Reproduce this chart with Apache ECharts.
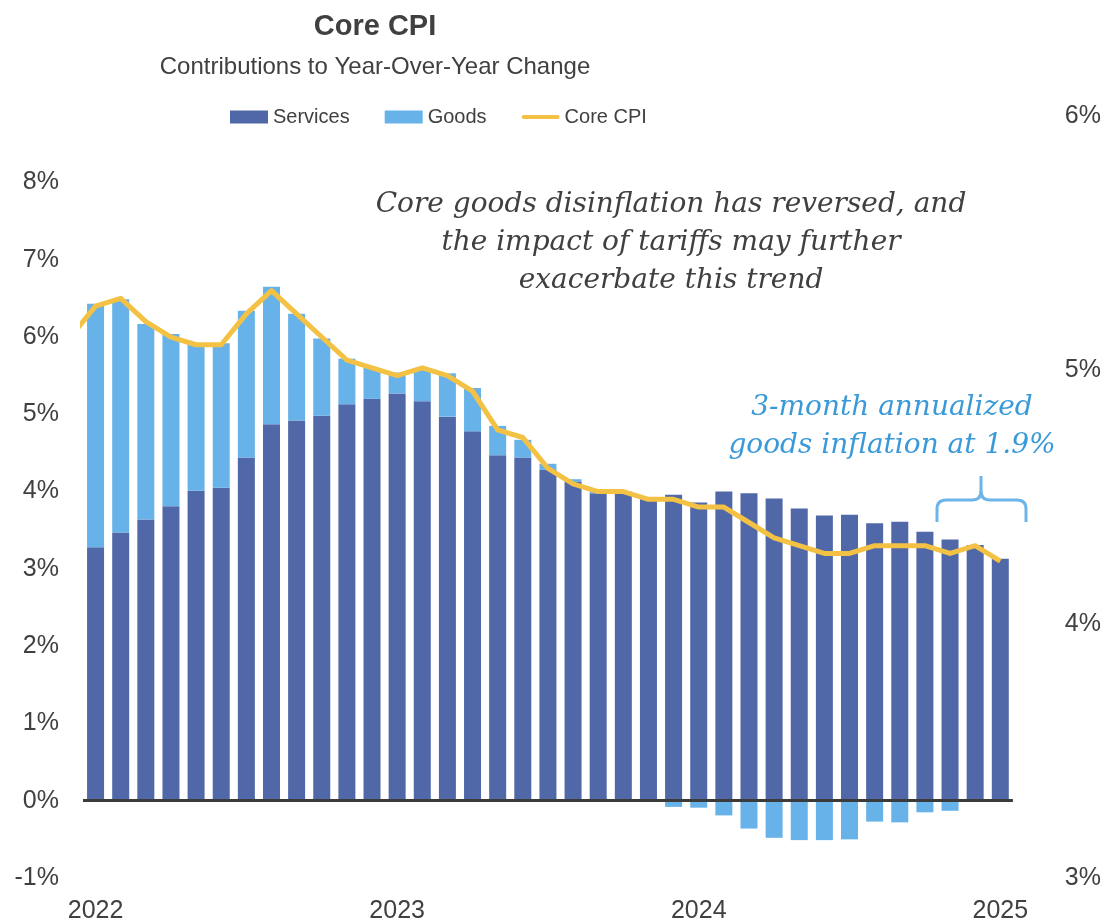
<!DOCTYPE html>
<html>
<head>
<meta charset="utf-8">
<title>Core CPI</title>
<script src="https://cdn.jsdelivr.net/npm/echarts@6/dist/echarts.min.js"></script>
<style>
  html, body { margin: 0; padding: 0; background: #fff; }
  #chart { width: 1104px; height: 924px; }
</style>
</head>
<body>
<div id="chart"></div>
<script>
// 月份：2022年2月 — 2025年2月
const months = [
  'Feb 2022', 'Mar 2022', 'Apr 2022', 'May 2022', 'Jun 2022', 'Jul 2022', 'Aug 2022', 'Sep 2022', 'Oct 2022', 'Nov 2022', 'Dec 2022', 'Jan 2023',
  'Feb 2023', 'Mar 2023', 'Apr 2023', 'May 2023', 'Jun 2023', 'Jul 2023', 'Aug 2023', 'Sep 2023', 'Oct 2023', 'Nov 2023', 'Dec 2023', 'Jan 2024',
  'Feb 2024', 'Mar 2024', 'Apr 2024', 'May 2024', 'Jun 2024', 'Jul 2024', 'Aug 2024', 'Sep 2024', 'Oct 2024', 'Nov 2024', 'Dec 2024', 'Jan 2025',
  'Feb 2025'
]
// 服务贡献 (%)
const services = [
  3.28, 3.47, 3.64, 3.81, 4.01, 4.05, 4.44, 4.87, 4.92, 4.98, 5.13, 5.20,
  5.27, 5.17, 4.97, 4.78, 4.47, 4.44, 4.28, 4.13, 3.98, 3.98, 3.91, 3.96,
  3.86, 4.00, 3.98, 3.91, 3.78, 3.69, 3.70, 3.59, 3.61, 3.48, 3.38, 3.31,
  3.13
]
// 商品贡献 (%)
const goods = [
  3.15, 3.02, 2.53, 2.23, 1.91, 1.87, 1.90, 1.78, 1.38, 1.00, 0.59, 0.40,
  0.27, 0.43, 0.56, 0.56, 0.38, 0.23, 0.08, 0.03, 0.02, 0.02, 0.00, -0.08,
  -0.09, -0.19, -0.36, -0.48, -0.51, -0.51, -0.50, -0.27, -0.28, -0.15, -0.13, 0.00,
  0.00
]
// 核心CPI同比 (%)，从2022年1月开始，第一段在图表左边被裁掉
const coreCpi = [
  6.0,
  6.4, 6.5, 6.2, 6.0, 5.9, 5.9, 6.3, 6.6, 6.3, 6.0, 5.7, 5.6,
  5.5, 5.6, 5.5, 5.3, 4.8, 4.7, 4.3, 4.1, 4.0, 4.0, 3.9, 3.9,
  3.8, 3.8, 3.6, 3.4, 3.3, 3.2, 3.2, 3.3, 3.3, 3.3, 3.2, 3.3,
  3.1
]
const leftTicks = { min: -1, max: 8.86, step: 1 }
const rightTicks = { min: 3, max: 6, step: 1 }

const textColor = '#404040'
const font = '"Liberation Sans", Arial, sans-serif'
const noteFont = '"DejaVu Serif", Georgia, serif'
const braceColor = '#6cb4e9'
const lineColor = '#f3c244'

const myChart = echarts.init(document.getElementById('chart'))
window.addEventListener('resize', function () {
  myChart.resize()
})

// 大括号：直线段 + 圆角
function braceLine(x1, y1, x2, y2) {
  return { type: 'line', shape: { x1, y1, x2, y2 }, style: { stroke: braceColor, lineWidth: 3 } }
}
function braceCorner(x1, y1, cpx1, cpy1, x2, y2) {
  return {
    type: 'bezierCurve',
    shape: { x1, y1, cpx1, cpy1, x2, y2 },
    style: { stroke: braceColor, lineWidth: 3, fill: 'none' },
  }
}
const brace = [
  braceLine(937, 522, 937, 509),
  braceCorner(937, 509, 937, 500, 946, 500),
  braceLine(946, 500, 972, 500),
  braceCorner(972, 500, 981, 500, 981, 491),
  braceLine(981, 491, 981, 476),
  braceCorner(981, 491, 981, 500, 990, 500),
  braceLine(990, 500, 1017, 500),
  braceCorner(1017, 500, 1026, 500, 1026, 509),
  braceLine(1026, 509, 1026, 522),
]

const option = {
  animation: false,
  textStyle: { fontFamily: font, color: textColor },
  title: [
    {
      text: 'Core CPI',
      left: 370,
      top: 7,
      textAlign: 'center',
      textStyle: { fontSize: 29, fontWeight: 'bold', color: textColor, fontFamily: font },
    },
    {
      text: 'Contributions to Year-Over-Year Change',
      left: 370,
      top: 50,
      textAlign: 'center',
      textStyle: { fontSize: 24, fontWeight: 'normal', color: textColor, fontFamily: font },
    },
  ],
  legend: {
    left: 225,
    top: 102,
    itemWidth: 38,
    itemHeight: 13,
    itemGap: 35,
    textStyle: { fontSize: 20, color: textColor, fontFamily: font },
    data: [
      { name: 'Services', icon: 'rect' },
      { name: 'Goods', icon: 'rect' },
      // 图例里的折线：细长圆角条
      { name: 'Core CPI', icon: 'path://M2,0 H36 A2,2 0 0 1 36,4 H2 A2,2 0 0 1 2,0 Z' },
    ],
  },
  grid: { left: 83, right: 91, top: 116, bottom: 45 },
  xAxis: [
    {
      type: 'category',
      data: months,
      axisLine: { show: false },
      axisTick: { show: false },
      axisLabel: {
        interval: function (i) { return i % 12 === 0 },
        formatter: function (v) { return v.slice(-4) },
        fontSize: 25,
        color: textColor,
        margin: 21,
      },
    },
    {
      // 折线用的隐藏数值轴，让2022年1月的点落在左边界外
      type: 'value',
      min: -0.5,
      max: months.length - 0.5,
      show: false,
    },
  ],
  yAxis: [
    {
      type: 'value',
      min: leftTicks.min,
      max: leftTicks.max,
      interval: leftTicks.step,
      splitLine: { show: false },
      axisLine: { show: false },
      axisTick: { show: false },
      axisLabel: {
        showMaxLabel: false,
        formatter: function (v) { return Number.isInteger(v) ? v + '%' : '' },
        fontSize: 25,
        color: textColor,
        margin: 24,
      },
    },
    {
      type: 'value',
      position: 'right',
      min: rightTicks.min,
      max: rightTicks.max,
      interval: rightTicks.step,
      splitLine: { show: false },
      axisLine: { show: false },
      axisTick: { show: false },
      axisLabel: {
        formatter: '{value}%',
        fontSize: 25,
        color: textColor,
        margin: 52,
      },
    },
  ],
  series: [
    {
      name: 'Services',
      type: 'bar',
      stack: 'total',
      barWidth: 17,
      data: services,
      itemStyle: { color: '#5068a7' },
      // 0% 基线
      markLine: {
        silent: true,
        symbol: 'none',
        label: { show: false },
        lineStyle: { color: '#3b3b3b', width: 3, type: 'solid' },
        data: [{ yAxis: 0 }],
      },
    },
    {
      name: 'Goods',
      type: 'bar',
      stack: 'total',
      barWidth: 17,
      data: goods,
      itemStyle: { color: '#67b2e8' },
    },
    {
      name: 'Core CPI',
      type: 'line',
      xAxisIndex: 1,
      data: coreCpi.map(function (v, i) { return [i - 1, v] }),
      symbol: 'none',
      clip: true,
      z: 4,
      lineStyle: { color: lineColor, width: 5, join: 'round' },
      itemStyle: { color: lineColor },
    },
  ],
  graphic: [
    {
      type: 'text',
      style: {
        text: 'Core goods disinflation has reversed, and\nthe impact of tariffs may further\nexacerbate this trend',
        x: 671,
        y: 186,
        align: 'center',
        verticalAlign: 'top',
        fontSize: 28,
        fontStyle: 'italic',
        fontFamily: noteFont,
        lineHeight: 38,
        fill: textColor,
      },
    },
    {
      type: 'text',
      style: {
        text: '3-month annualized\ngoods inflation at 1.9%',
        x: 892,
        y: 389,
        align: 'center',
        verticalAlign: 'top',
        fontSize: 28,
        fontStyle: 'italic',
        fontFamily: noteFont,
        lineHeight: 38,
        fill: '#3a9ad9',
      },
    },
  ].concat(brace),
}
myChart.setOption(option)
</script>
</body>
</html>
